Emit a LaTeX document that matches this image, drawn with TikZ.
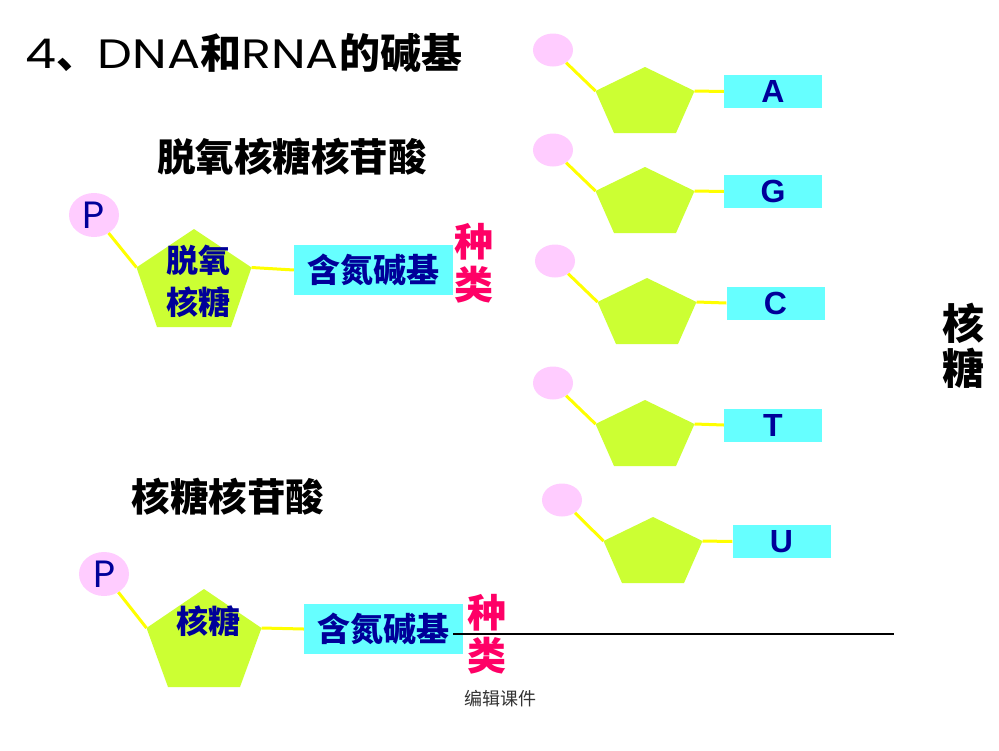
\documentclass[tikz,border=0pt]{standalone}
\usepackage{fontspec}
\usetikzlibrary{shapes.geometric}
\setmainfont{Noto Sans CJK SC}
\setsansfont{Liberation Sans}
\newfontfamily\latinf{Poppins}
\newfontfamily\latinw{Poppins}[FakeStretch=1.2]
\definecolor{pinkP}{HTML}{FFCCFF}
\definecolor{sugarC}{HTML}{CCFF33}
\definecolor{baseC}{HTML}{66FFFF}
\definecolor{bondY}{HTML}{FFFF00}
\definecolor{navyT}{HTML}{000099}
\definecolor{kindM}{HTML}{FF0066}
\tikzset{
  pics/sugar/.style n args={4}{code={
    \fill[sugarC] (0,0) coordinate (-top) -- (-#1,#2) coordinate (-left) -- (-#4,#3) -- (#4,#3) -- (#1,#2) coordinate (-right) -- cycle;}},
  bond/.style={draw=bondY,line width=3pt},
  phos/.style={ellipse,fill=pinkP,inner sep=0pt,minimum width=40pt,minimum height=33pt},
  phosbig/.style={phos,minimum width=50pt,minimum height=44pt,text=navyT,font=\latinf\fontsize{38}{38}\selectfont},
  letterbox/.style={fill=baseC,inner sep=0pt,minimum width=98pt,minimum height=33pt,text=navyT,font=\sffamily\bfseries\fontsize{32}{32}\selectfont},
  basebox/.style={fill=baseC,inner sep=0pt,minimum width=159pt,minimum height=50pt,text=navyT,font=\bfseries\fontsize{33}{33}\selectfont},
  sugartext/.style={inner sep=0pt,text=navyT,align=center,font=\bfseries\fontsize{32}{42}\selectfont},
  kindtext/.style={inner sep=0pt,text=kindM,align=center,font=\bfseries\fontsize{39}{43}\selectfont},
  heading/.style={inner sep=0pt,text=black,font=\bfseries\fontsize{38.5}{38.5}\selectfont},
}
\begin{document}
\begin{tikzpicture}[x=1pt,y=-1pt]
\useasboundingbox (0,0) rectangle (999,750);
\fill[white] (0,0) rectangle (999,750);

% title
\node[inner sep=0pt,font=\bfseries\fontsize{41}{41}\selectfont] (title) at (244,53)
  {{\mdseries\latinw 4}、{\mdseries\latinw DNA}和{\mdseries\latinw RNA}的碱基};

% headings
\node[heading] (h1) at (292,157) {脱氧核糖核苷酸};
\node[heading] (h2) at (228,497) {核糖核苷酸};
\node[inner sep=0pt,align=center,font=\bfseries\fontsize{42}{45}\selectfont] (side) at (963,346) {核\\糖};

% ---- deoxyribonucleotide
\node[phosbig] (P1) at (94,215) {P};
\pic (S1) at (194,229) {sugar={57.5}{38.5}{98}{37}};
\node[basebox] (B1) at (373.5,270) {含氮碱基};
\draw[bond] (P1) -- (S1-left);
\draw[bond] (S1-right) -- (B1.west);
\node[sugartext] (L1) at (198,281) {脱氧\\核糖};
\node[kindtext] (K1) at (474,263) {种\\类};

% ---- ribonucleotide
\node[phosbig] (P2) at (104,574) {P};
\pic (S2) at (204,589) {sugar={57.5}{39}{98}{36}};
\node[basebox] (B2) at (383.5,629) {含氮碱基};
\draw[bond] (P2) -- (S2-left);
\draw[bond] (S2-right) -- (B2.west);
\node[sugartext] (L2) at (208,621) {核糖};
\node[kindtext] (K2) at (487,634) {种\\类};
\coordinate (lineS) at (453,634);
\coordinate (lineE) at (894,634);
\draw[black,line width=1.3pt] (lineS) -- (lineE);

% ---- right column
\foreach \n/\ex/\ey/\sx/\sy/\bx/\by/\t in {A/553/50/645/67/773/91.5/A, G/553/150/645/167/773/191.5/G, C/555/261/647/278/775.5/303/C, T/553/383/645/400/773/425/T, U/562/500/653/517/781.5/541.5/U}{
  \node[phos] (E\n) at (\ex,\ey) {};
  \pic (R\n) at (\sx,\sy) {sugar={49.5}{24}{66}{31}};
  \node[letterbox] (X\n) at (\bx,\by) {\t};
  \draw[bond] (E\n) -- (R\n-left);
  \draw[bond] (R\n-right) -- (X\n.west);
}

% footer
\node[inner sep=0pt,text=black!80,font=\fontsize{18}{18}\selectfont] (foot) at (500,699) {编辑课件};
\end{tikzpicture}
\end{document}
